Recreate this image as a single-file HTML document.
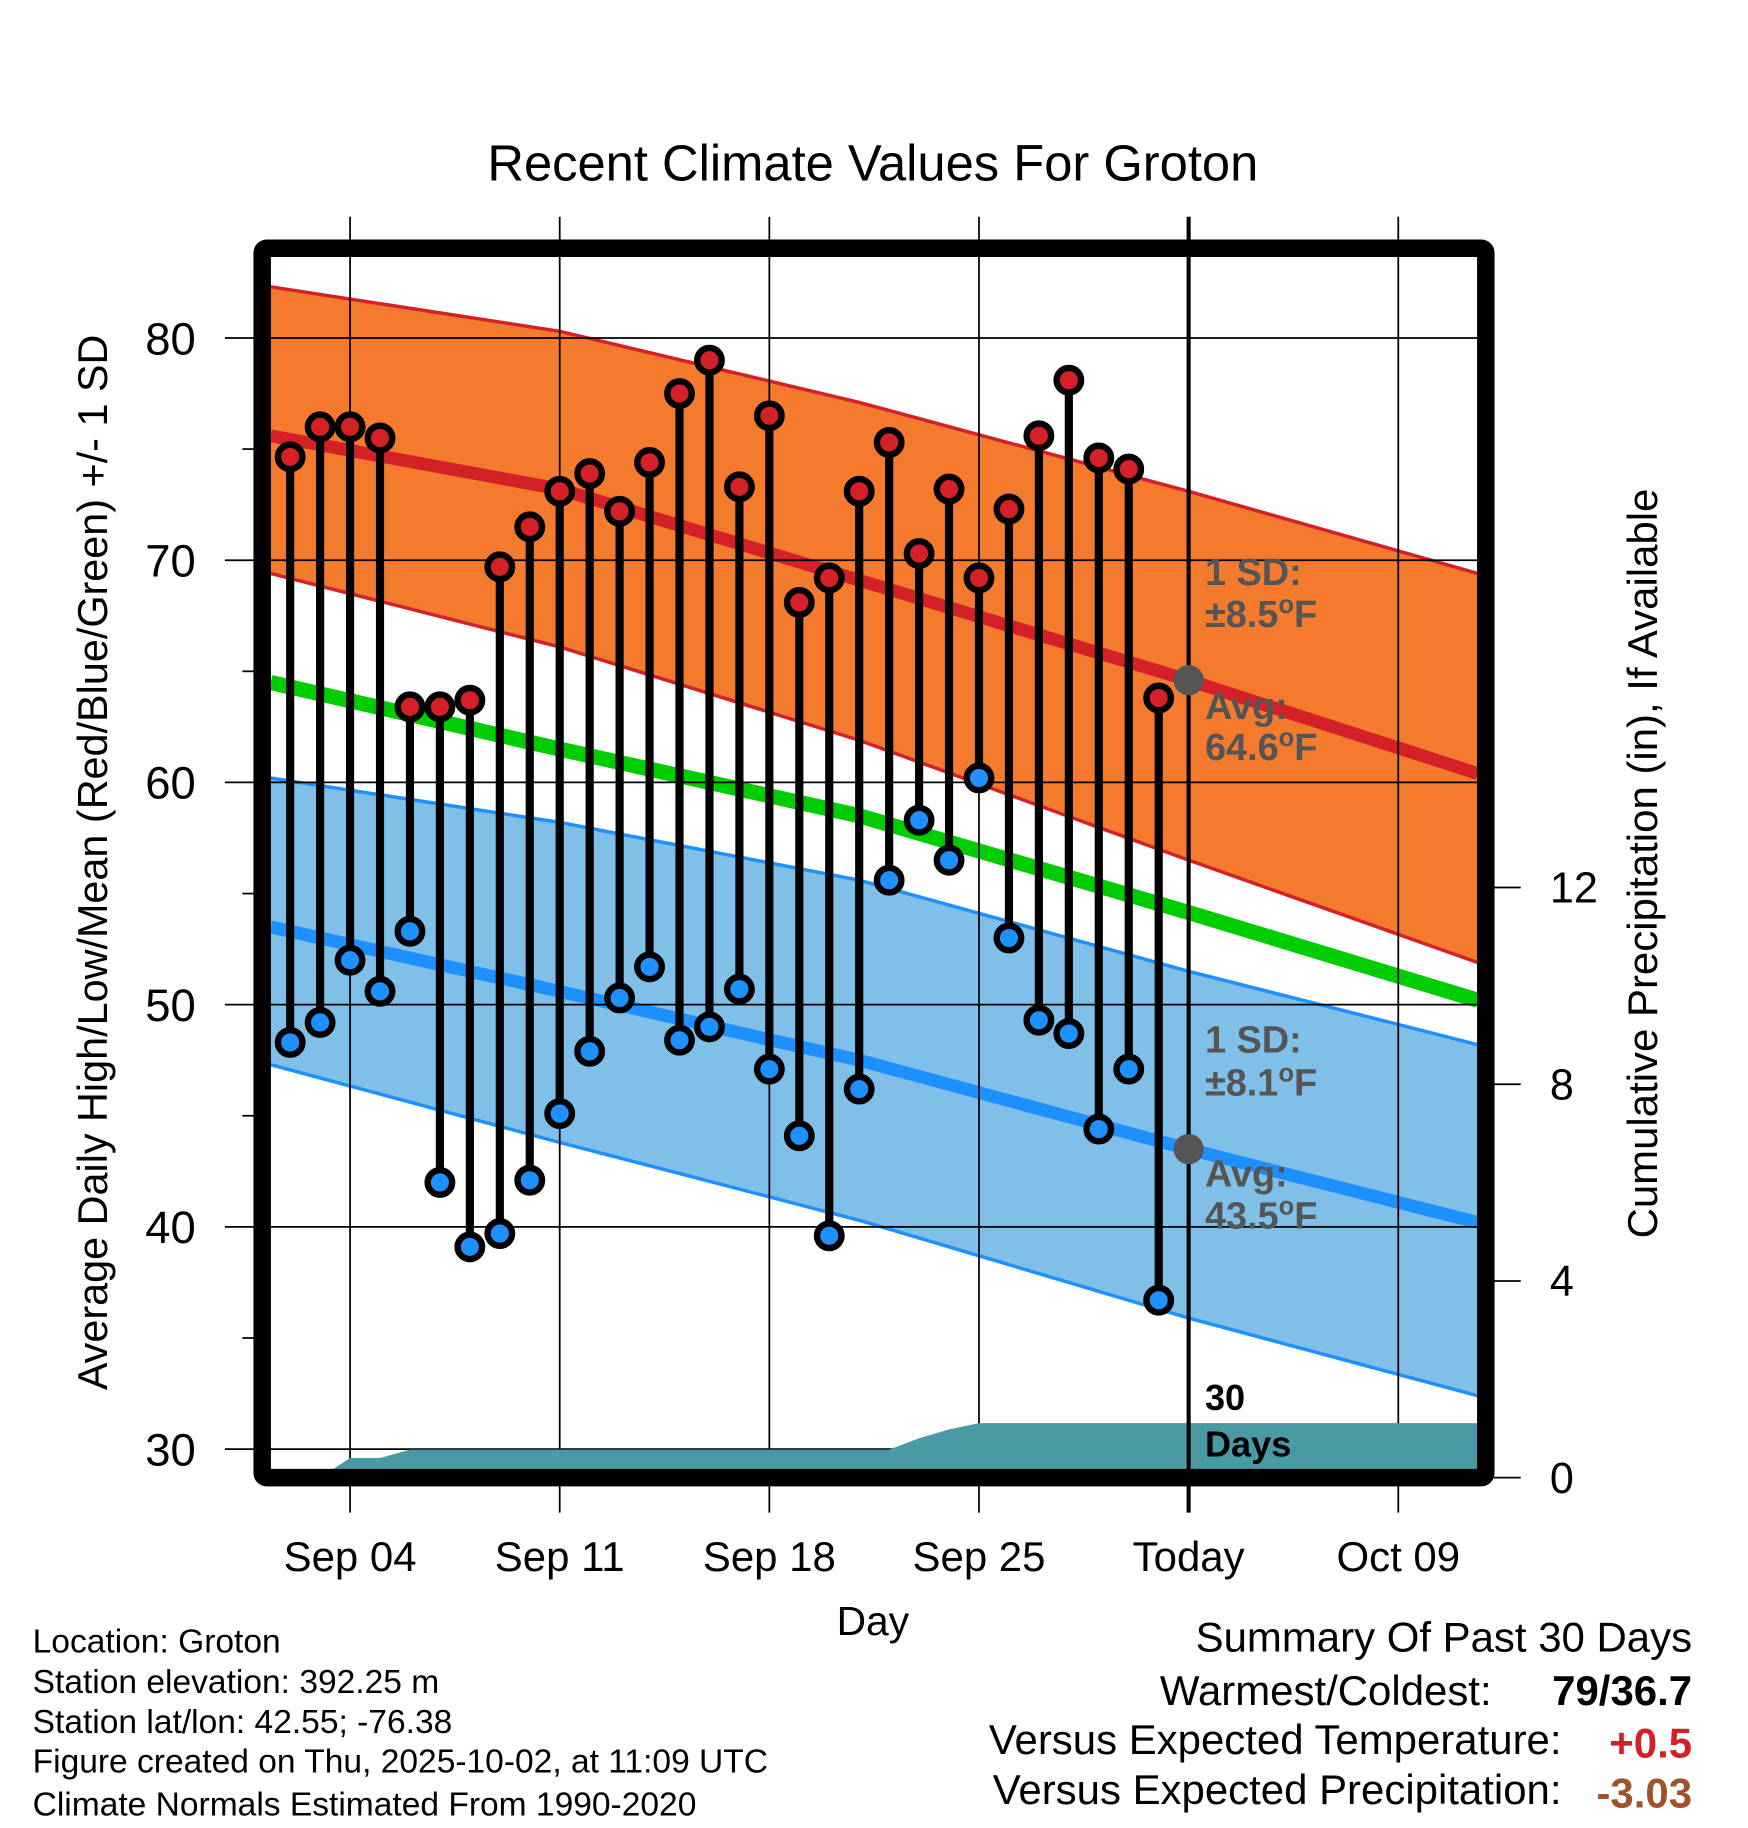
<!DOCTYPE html>
<html><head><meta charset="utf-8"><title>Recent Climate Values For Groton</title>
<style>html,body{margin:0;padding:0;background:#fff;}svg{display:block;font-family:"Liberation Sans",sans-serif;}</style>
</head><body>
<svg id="chart" width="1748" height="1828" viewBox="0 0 1500 1568.6" xmlns="http://www.w3.org/2000/svg">
<g id="bands"></g>
<g id="grid"></g>
<g id="precip"></g>
<g id="marks"></g>
<g id="annot"></g>
<g id="axes"></g>
<text x="749" y="155" font-size="43.5" text-anchor="middle">Recent Climate Values For Groton</text>
<text transform="translate(92,740) rotate(-90)" font-size="35.5" text-anchor="middle">Average Daily High/Low/Mean (Red/Blue/Green) +/- 1 SD</text>
<text transform="translate(1422,741) rotate(-90)" font-size="36" text-anchor="middle">Cumulative Precipitation (in), If Available</text>
<text x="749" y="1403" font-size="35" text-anchor="middle">Day</text>
<g font-size="28.8">
<text x="28" y="1418">Location: Groton</text>
<text x="28" y="1453">Station elevation: 392.25 m</text>
<text x="28" y="1487">Station lat/lon: 42.55; -76.38</text>
<text x="28" y="1521">Figure created on Thu, 2025-10-02, at 11:09 UTC</text>
<text x="28" y="1558">Climate Normals Estimated From 1990-2020</text>
</g>
<g font-size="36">
<text x="1452" y="1417" text-anchor="end">Summary Of Past 30 Days</text>
<text x="1280" y="1463" text-anchor="end">Warmest/Coldest:</text>
<text x="1452" y="1463" text-anchor="end" font-weight="bold">79/36.7</text>
<text x="1340" y="1505" text-anchor="end">Versus Expected Temperature:</text>
<text x="1452" y="1508" text-anchor="end" font-weight="bold" fill="#d42027">+0.5</text>
<text x="1340" y="1548" text-anchor="end">Versus Expected Precipitation:</text>
<text x="1452" y="1551" text-anchor="end" font-weight="bold" fill="#a0522d">-3.03</text>
</g>
</svg>
<script>
// ---- data ----
const dayLabels = ["Sep 04","Sep 11","Sep 18","Sep 25","Today","Oct 09"];
const dayTicks = [3,10,17,24,31,38];
const yTicks = [30,40,50,60,70,80];
const precipTicks = [0,4,8,12];
const obsDays = [1,2,3,4,5,6,7,8,9,10,11,12,13,14,15,16,17,18,19,20,21,22,23,24,25,26,27,28,29,30];
const highs = [74.65,76.0,76.0,75.5,63.4,63.4,63.7,69.7,71.5,73.1,73.9,72.2,74.4,77.5,79.0,73.3,76.5,68.1,69.2,73.1,75.3,70.3,73.2,69.2,72.3,75.6,78.1,74.6,74.1,63.8];
const lows = [48.3,49.2,52.0,50.6,53.3,42.0,39.1,39.7,42.1,45.1,47.9,50.3,51.7,48.4,49.0,50.7,47.1,44.1,39.6,46.2,55.6,58.3,56.5,60.2,53.0,49.3,48.7,44.4,47.1,36.7];
const normDays = [0.35,10,20,31,40.65];
const highUpper = [82.3,80.3,77.1,73.1,69.4];
const highAvg = [75.6,73.2,69.1,64.6,60.4];
const highLower = [69.4,66.1,61.9,56.5,51.9];
const meanAvg = [64.5,61.5,58.5,54.15,50.2];
const lowUpper = [60.2,58.2,55.6,51.5,48.2];
const lowAvg = [53.5,50.6,47.5,43.5,40.2];
const lowLower = [47.3,43.8,40.3,35.9,32.4];
const precipDays = [0.35,2,3,4,5,21,22,23,24,40.65];
const precipCum = [0,0,0.4,0.4,0.57,0.57,0.8,0.98,1.11,1.11];

// ---- scales ----
const X0=223.3, DX=25.7;
const xs = d => X0 + DX*d;
const ys = v => 290 + (80-v)*19.07;
const yp = p => 1268 - p*42.2;
const NS="http://www.w3.org/2000/svg";
function mk(tag, parent, attrs){const e=document.createElementNS(NS,tag);for(const k in attrs)e.setAttribute(k,attrs[k]);parent.appendChild(e);return e;}
const bands=document.getElementById('bands'),grid=document.getElementById('grid'),precip=document.getElementById('precip'),marks=document.getElementById('marks'),annot=document.getElementById('annot'),axes=document.getElementById('axes');
const pts = arr => normDays.map((d,i)=>xs(d).toFixed(1)+','+ys(arr[i]).toFixed(1));
function band(up,lo,fill,edge,name){
  const p=mk('polygon',bands,{points:pts(up).concat(pts(lo).reverse()).join(' '),fill:fill});
  
  
  [up,lo].forEach(a=>{const l=mk('polyline',bands,{points:pts(a).join(' '),fill:'none',stroke:edge,'stroke-width':3});
    
    });
}
band(highUpper,highLower,'#f47a2e','#d42027','high');
band(lowUpper,lowLower,'#80c0e8','#1e90ff','low');
function avgLine(a,c,w,name){const l=mk('polyline',bands,{points:pts(a).join(' '),fill:'none',stroke:c,'stroke-width':w});
  
  }
avgLine(highAvg,'#d42027',11,'avg-high-line');
avgLine(lowAvg,'#1e90ff',11,'avg-low-line');
avgLine(meanAvg,'#00cc00',13,'avg-mean-line');

// grid
yTicks.forEach(v=>{const l=mk('line',grid,{x1:193,x2:1268,y1:ys(v),y2:ys(v),stroke:'#000','stroke-width':1.5});
  
  });
dayTicks.forEach((d,i)=>{if(dayLabels[i]==='Today')return;const l=mk('line',grid,{x1:xs(d),x2:xs(d),y1:186,y2:1298,stroke:'#000','stroke-width':1.5});
  
  });

// precip
const pp=[xs(precipDays[0])+','+1268].concat(precipDays.map((d,i)=>xs(d).toFixed(1)+','+yp(precipCum[i]).toFixed(1))).concat([xs(precipDays[precipDays.length-1])+','+1268]);
const pa=mk('polygon',precip,{points:pp.join(' '),fill:'#4a9aa5'});



// today line
const tl=mk('line',marks,{x1:xs(31),x2:xs(31),y1:186,y2:1298,stroke:'#000','stroke-width':3.5});



// stems & dots
obsDays.forEach((d,i)=>{
  const x=xs(d);
  const s=mk('line',marks,{x1:x,x2:x,y1:ys(highs[i]),y2:ys(lows[i]),stroke:'#000','stroke-width':7});
  
  
  [[highs[i],'#d42027','high-point'],[lows[i],'#1e90ff','low-point']].forEach(([v,c,n])=>{
    const o=mk('circle',marks,{cx:x,cy:ys(v),r:10.5,fill:c,stroke:'#000','stroke-width':5.5});
    
    
  });
});

// annotations
const g='#555';
[[64.6,'today-avg-high-dot'],[43.5,'today-avg-low-dot']].forEach(([v,n])=>{const c=mk('circle',annot,{cx:xs(31),cy:ys(v),r:13,fill:g});
  
  });
function lab(t,y,name,col,size){const e=mk('text',annot,{x:1034,y:y,'font-size':size||32.5,'font-weight':'bold',fill:col||g});e.innerHTML=t;
  
  }
const deg='<tspan dy="-12" font-size="22">o</tspan><tspan dy="12">F</tspan>';
lab('1 SD:',502,'high-sd-label');lab('±8.5'+deg,538,'high-sd-value');
lab('Avg:',617,'high-avg-label');lab('64.6'+deg,652,'high-avg-value');
lab('1 SD:',903,'low-sd-label');lab('±8.1'+deg,940,'low-sd-value');
lab('Avg:',1018,'low-avg-label');lab('43.5'+deg,1054,'low-avg-value');
lab('30',1210,'days-count-label','#000',31);lab('Days',1250,'days-text-label','#000',31);

// frame
const fr=mk('rect',axes,{x:225,y:213,width:1050,height:1055,rx:4,fill:'none',stroke:'#000','stroke-width':15});


// y minor ticks & labels
[35,45,55,65,75].forEach(v=>{const t=mk('line',axes,{x1:208,x2:218,y1:ys(v),y2:ys(v),stroke:'#000','stroke-width':1.5});
  
  });
yTicks.forEach(v=>{const t=mk('text',axes,{x:168,y:ys(v)+14,'font-size':39,'text-anchor':'end'});t.textContent=v;
  
  });
precipTicks.forEach(p=>{const l=mk('line',axes,{x1:1282,x2:1305,y1:yp(p),y2:yp(p),stroke:'#000','stroke-width':1.5});
  
  
  const t=mk('text',axes,{x:1330,y:yp(p)+13,'font-size':37,'text-anchor':'start'});t.textContent=p;
  
  });
dayTicks.forEach((d,i)=>{const t=mk('text',axes,{x:xs(d),y:1348,'font-size':36,'text-anchor':'middle'});t.textContent=dayLabels[i];
  
  });
</script>
</body></html>
